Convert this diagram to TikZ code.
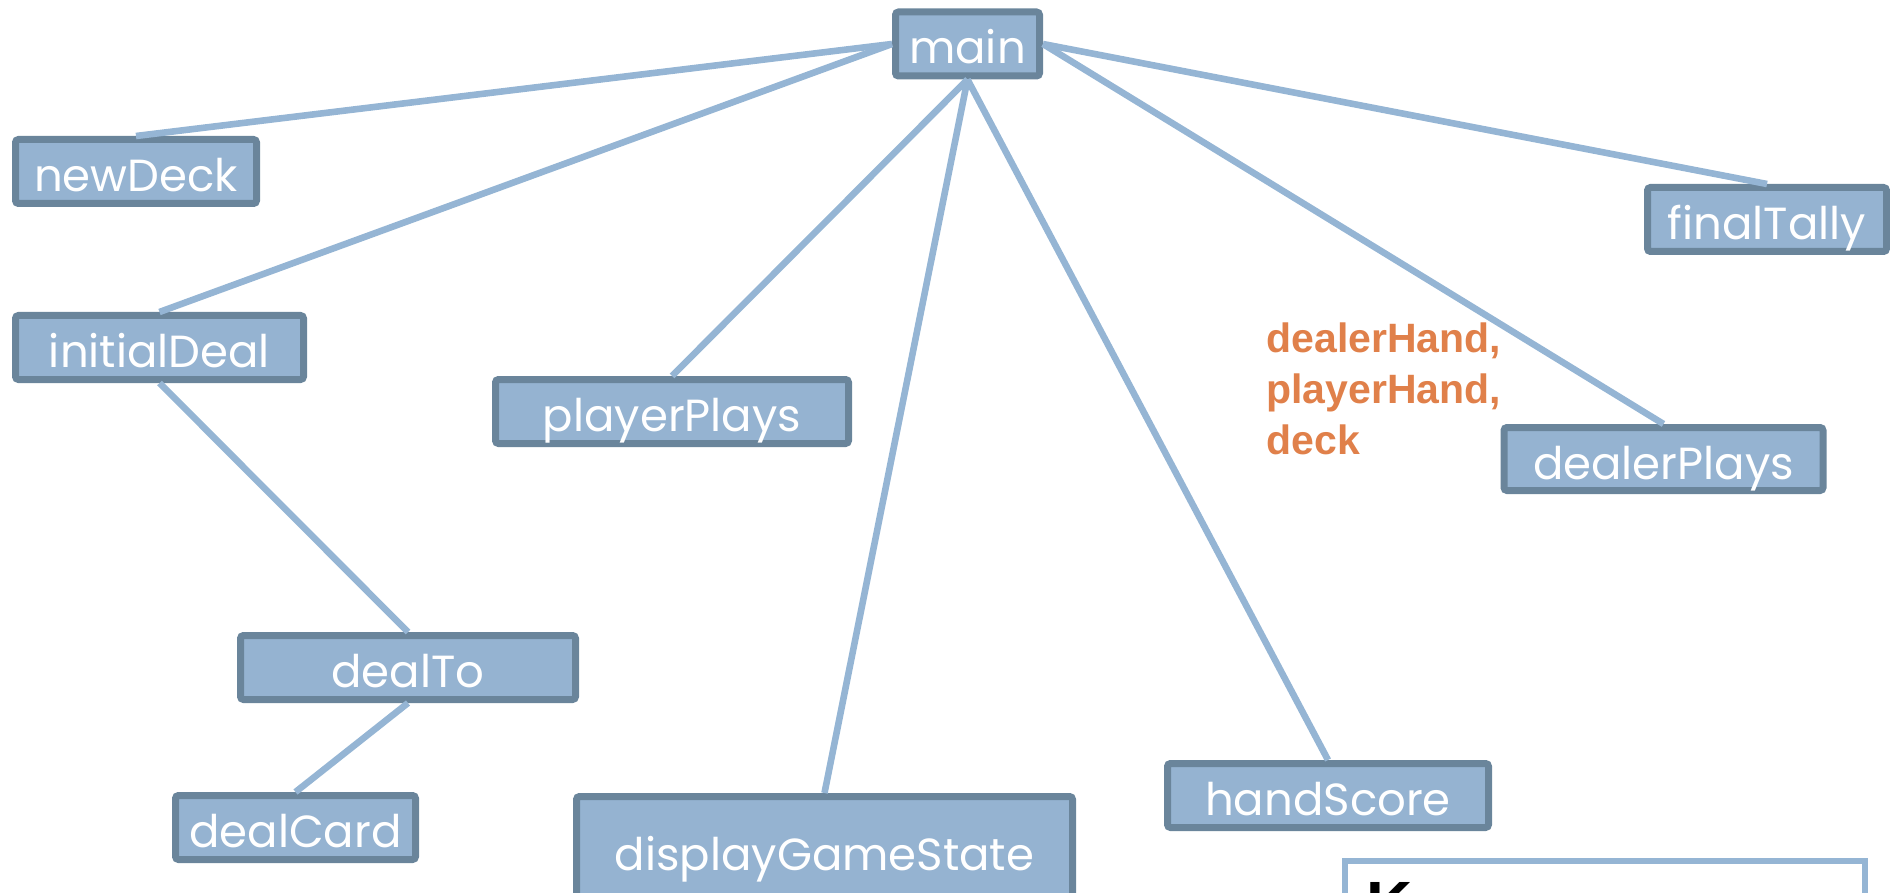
\documentclass[tikz,border=0pt]{standalone}
\usepackage{fontspec}
\usepackage{tikz}
\usetikzlibrary{positioning}

\newfontfamily\boxface{Poppins}
\newfontfamily\noteface{Liberation Sans}

\definecolor{boxfill}{HTML}{95B3D1}
\definecolor{boxline}{HTML}{6A859B}
\definecolor{linkblue}{HTML}{95B5D4}
\definecolor{noteorange}{HTML}{E0804A}

\tikzset{
  fnbox/.style={draw=boxline, fill=boxfill, line width=3.5pt, rounded corners=1.5pt,
    text=white, font=\boxface\fontsize{22.5}{26}\selectfont, text height=20pt, text depth=0pt,
    inner sep=0pt, minimum height=32pt},
  link/.style={draw=linkblue, line width=3.3pt},
  note/.style={text=noteorange, font=\noteface\bfseries\fontsize{20.5}{25.5}\selectfont,
    align=left, inner sep=0pt, anchor=north west}
}

\begin{document}
\begin{tikzpicture}[x=0.5pt, y=-0.5pt]
			%%%%% START %%%%%
			\useasboundingbox (0,0) rectangle (1890,893);
			\clip (0,0) rectangle (1890,893);
			
			\node[fnbox, minimum width=72pt] (main) at (967.5, 44) {main};
			
			\node[fnbox, minimum width=120.5pt] (newDeck) at (136, 171.5) {newDeck};
			\node[fnbox, minimum width=144pt] (initialDeal) at (159.5, 347.5) {initialDeal};
			\node[fnbox, minimum width=167.5pt] (dealTo) at (408, 667.5) {dealTo};
			\node[fnbox, minimum width=120pt] (dealCard) at (295.5, 827.5) {dealCard};
			
			\node[fnbox, minimum width=176.5pt] (playerPlays) at (672, 411.5) {playerPlays};
			\node[fnbox, minimum width=248pt, minimum height=53.5pt] (displayGameState) at (824.5, 850) {displayGameState};
			\node[fnbox, minimum width=160.5pt] (handScore) at (1328, 795.5) {handScore};
			
			\node[fnbox, minimum width=159.5pt, minimum height=31.5pt] (dealerPlays) at (1663.5, 459) {dealerPlays};
			\node[fnbox, minimum width=119.5pt] (finalTally) at (1767, 219.5) {finalTally};
			
			\node[note] (params) at (1266, 322) {dealerHand,\\playerHand,\\deck};
			
			\draw[link] (main.west) -- (newDeck.north);
			\draw[link] (main.west) -- (initialDeal.north);
			\draw[link] (initialDeal.south) -- (dealTo.north);
			\draw[link] (dealTo.south) -- (dealCard.north);
			\draw[link] (main.south) -- (playerPlays.north);
			\draw[link] (main.south) -- (displayGameState.north);
			\draw[link] (main.south) -- (handScore.north);
			\draw[link] (main.east) -- (dealerPlays.north);
			\draw[link] (main.east) -- (finalTally.north);
			
			% key box, cut off at the bottom
			\draw[draw=linkblue, line width=3pt, fill=white] (1345, 861) rectangle (1865, 1000);
			\node[anchor=north west, inner sep=0pt, font=\noteface\bfseries\fontsize{32}{36}\selectfont] (keyTitle) at (1366, 882) {K};
			
			%%%%% END %%%%%
\end{tikzpicture}
\end{document}
